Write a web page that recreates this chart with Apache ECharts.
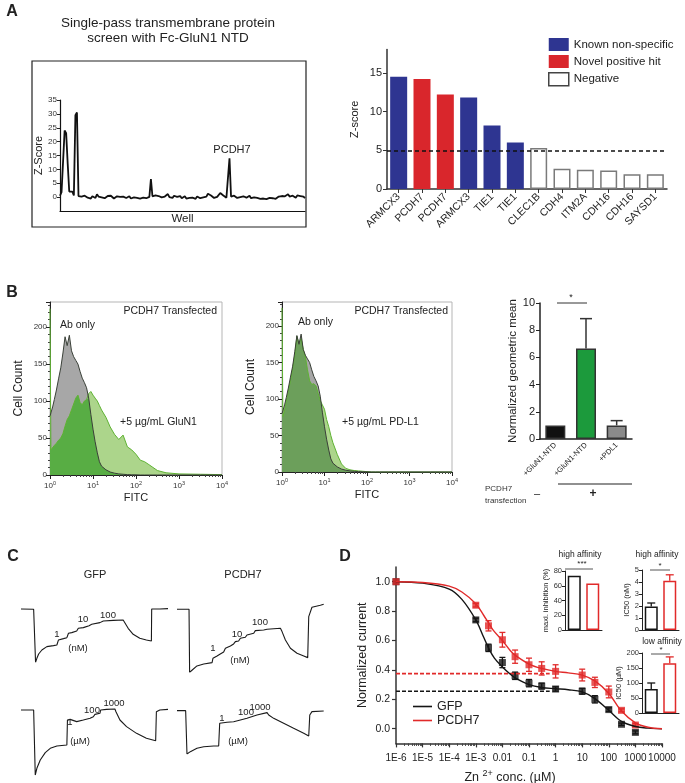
<!DOCTYPE html>
<html>
<head>
<meta charset="utf-8">
<script src="https://cdn.jsdelivr.net/npm/echarts@6/dist/echarts.min.js"></script>
<style>
html,body{margin:0;padding:0;background:#fff;}
#chart{width:685px;height:783px;}
</style>
</head>
<body>
<div id="chart"></div>
<script>
const FONT = '"Liberation Sans", Arial, sans-serif';

// A - single pass screen, z-score per well
const screenZ = [
  0.5, 1.8, 1.2, 24, 23, 12, 2, 1.5, 2, 0.6, 29.5, 30.5, 0.4,
  -0.3, 0.2, -0.4, 0.5, 0.1, -0.2, 0.4, -0.5, 0.3, 0.0, -0.3, 1.0,
  0.2, 0.6, -0.1, 0.5, -0.4, 0.3, 0.4, -0.2, 0.5, 0.1, -0.5, -0.2,
  0.3, -0.4, 0.1, -0.6, 0.2, 0.4, -0.3, 0.0, 0.3, -0.5, 0.2, -0.1,
  0.4, -0.3, 0.1, -0.5, 0.2, -0.2, 0.3, -0.4, 0.2, 0.1, 6.5, 0.3,
  -0.2, 0.6, 1.0, 0.4, 0.8, -0.1, 0.5, 0.2, 0.7, 1.1, 0.0, 0.4,
  -0.3, 0.5, 1.2, 0.1, -0.2, 0.4, -0.4, 0.2, 0.3, -0.5, 0.1, -0.3,
  0.4, -0.2, 0.3, -0.6, 0.2, 0.0, -0.4, 0.3, -0.1, 0.5, 0.2, 1.2,
  1.3, 0.6, 0.2, -0.3, 0.4, 0.1, 0.5, 1.5, 1.4, 0.6, 0.2, -0.2,
  0.3, 14, 0.2, -0.4, 0.5, 0.1, -0.3, 0.4, 0.0, -0.5, 0.3, 0.6,
  -0.2, 0.1, 0.5, -0.4, 0.2, -0.1, 0.4, -0.3, 0.1, -0.6, -0.4, -0.5,
  0.2, -0.7, -0.5, -0.3, -0.8, -0.4, 0.1, -0.6, -0.3, 0.2, -0.2, 0.4,
  -0.1, 0.3, -0.4, 1.0, 0.2, -0.3, 0.5, 0.1, -0.2, 0.6, 0.3, 0.4,
  1.0, 0.2, -0.4
];
const screenWells = screenZ.map((_, i) => i + 1);

// A - top hits
const hitGenes = ['ARMCX3','PCDH7','PCDH7','ARMCX3','TIE1','TIE1','CLEC1B','CDH4','ITM2A','CDH16','CDH16','SAYSD1'];
const knownNonSpecific = [14.5,'-','-',11.8,8.2,6.0,'-','-','-','-','-','-'];
const novelPositive = ['-',14.2,12.2,'-','-','-','-','-','-','-','-','-'];
const negativeHits = ['-','-','-','-','-','-',5.3,2.6,2.5,2.4,1.9,1.9];
const zThreshold = 5;

// B - flow cytometry histograms (FITC bin, cell count)
const fitcBins = [1, 1.05, 1.15, 1.26, 1.41, 1.58, 1.78, 2.0, 2.24, 2.51,
  2.82, 3.16, 3.55, 3.98, 4.47, 5.01, 5.62, 6.31, 7.08, 7.94,
  8.91, 10, 11.2, 12.6, 14.1, 15.8, 20, 25.1, 31.6, 39.8,
  50.1, 63.1, 79.4, 100, 126, 158, 200, 316, 501, 1000,
  3162, 10000];
const abOnlyCounts = [80, 84, 92, 102, 115, 130, 145, 165, 187, 175,
  189, 168, 160, 155, 150, 140, 131, 125, 118, 104,
  82, 62, 45, 30, 18, 12, 7, 4, 2.5, 1.5,
  1, 0.5, 0.3, 0.2, 0, 0, 0, 0, 0, 0,
  0, 0];
const glun1Counts = [225, 34, 36, 40, 43, 47, 50, 56, 66, 75,
  80, 88, 96, 104, 108, 98, 95, 100, 102, 110,
  113, 108, 104, 100, 94, 88, 78, 65, 55, 48,
  54, 38, 34, 28, 20, 18, 14, 6, 3, 1.5,
  1, 0.5];
const pdl1Counts = [225, 76, 85, 97, 111, 125, 142, 160, 186, 176,
  183, 168, 158, 140, 125, 120, 121, 118, 108, 98,
  92, 86, 72, 62, 50, 40, 24, 11, 5, 3,
  2, 1.5, 1, 0.5, 0, 0, 0, 0, 0, 0,
  0, 0];

// B - geometric mean
const bindGroups = ['+GluN1-NTD', '+GluN1-NTD', '+PDL1'];
const geoMean = [1.0, 6.65, 1.0];
const geoMeanErr = [0, 2.2, 0.35];
const geoColors = ['#111111', '#1c9a3c', '#8a8a8a'];

// C - current traces [time (a.u.), normalized current]
const gfpNanoTrace = [[0,0],[8.6,-0.006],[9.5,-0.006],[9.9,-1.0],[10.8,-0.925],[12,-0.844],[14.2,-0.769],[17.6,-0.706],[22.1,-0.688],[24.4,-0.675],[25.5,-0.581],[28.9,-0.556],[31.2,-0.538],[32.3,-0.456],[34.5,-0.444],[37.9,-0.413],[39,-0.363],[42.4,-0.35],[43.6,-0.325],[46.3,-0.313],[48.1,-0.288],[53.7,-0.256],[56,-0.225],[62.8,-0.213],[69.5,-0.206],[70.7,-0.238],[72.9,-0.363],[76.3,-0.475],[80.8,-0.55],[85.3,-0.581],[88.7,-0.6],[88.9,0],[94.4,0],[100,0.006]];
const pcdh7NanoTrace = [[0,0],[6.8,0],[8.2,0],[8.6,-1],[10.2,-0.968],[13.6,-0.899],[18.2,-0.868],[23.9,-0.847],[24.5,-0.778],[27.3,-0.741],[29.5,-0.709],[31.8,-0.677],[33,-0.619],[36.4,-0.582],[38.6,-0.55],[39.8,-0.513],[42,-0.503],[43.2,-0.46],[46.6,-0.444],[47.7,-0.407],[52.3,-0.381],[53.4,-0.339],[59.1,-0.328],[61.4,-0.317],[70.5,-0.302],[71.6,-0.354],[73.9,-0.487],[77.3,-0.619],[81.8,-0.698],[86.4,-0.741],[89.1,-0.767],[89.8,-0.116],[92,0.032],[97.7,0.063],[100,0.079]];
const gfpMicroTrace = [[0,0],[8.6,0],[9.3,0],[9.7,-1],[10.8,-0.897],[13.1,-0.769],[16.5,-0.656],[19.9,-0.59],[24.4,-0.554],[31.2,-0.538],[31.6,-0.154],[33.4,-0.144],[37.9,-0.179],[42.4,-0.154],[47,-0.128],[49.2,-0.103],[50.3,-0.067],[53.7,-0.051],[54.2,0],[58.2,0.01],[63.9,0.015],[64.6,-0.026],[67.3,-0.154],[71.8,-0.256],[78.6,-0.359],[85.3,-0.436],[91.6,-0.472],[92.1,-0.026],[94.4,0],[100,0.01]];
const pcdh7MicroTrace = [[0,0],[5.9,0],[6.4,0],[6.8,-1],[9.1,-0.946],[13.6,-0.869],[18.2,-0.831],[25,-0.815],[28.4,-0.815],[29.1,-0.292],[34.1,-0.269],[38.6,-0.254],[43.2,-0.215],[47.7,-0.177],[48.9,-0.138],[54.5,-0.1],[55.7,-0.062],[61.4,-0.046],[62.5,-0.1],[65.9,-0.177],[72.7,-0.292],[79.5,-0.408],[86.4,-0.523],[89.8,-0.585],[90.5,-0.1],[92,-0.023],[100,-0.008]];

// D - Zn2+ inhibition
const znConc = [1e-6, 1e-3, 3e-3, 0.01, 0.03, 0.1, 0.3, 1, 10, 30, 100, 300, 1000];
const gfpCurrent = [1.0, 0.74, 0.55, 0.45, 0.36, 0.31, 0.29, 0.27, 0.255, 0.2, 0.13, 0.03, -0.025];
const gfpErr = [0, 0.012, 0.025, 0.035, 0.025, 0.025, 0.02, 0.015, 0.02, 0.025, 0.012, 0.008, 0.01];
const pcdh7Current = [1.0, 0.84, 0.70, 0.605, 0.49, 0.435, 0.41, 0.39, 0.365, 0.315, 0.25, 0.125, 0.025];
const pcdh7Err = [0, 0.012, 0.035, 0.05, 0.045, 0.045, 0.045, 0.045, 0.04, 0.035, 0.04, 0.01, 0.01];
const fitConc = [1e-6, 1e-5, 1e-4, 3e-4, 1e-3, 2e-3, 3e-3, 5e-3, 0.01, 0.02, 0.03, 0.1, 0.3, 1, 3, 10, 30, 100, 300, 1000, 3000, 10000];
const gfpFit = [1.0, 0.99, 0.95, 0.88, 0.74, 0.62, 0.55, 0.48, 0.42, 0.37, 0.345, 0.30, 0.28, 0.272, 0.265, 0.25, 0.205, 0.125, 0.05, 0.015, 0.004, 0.0];
const pcdh7Fit = [1.0, 0.995, 0.97, 0.93, 0.85, 0.77, 0.72, 0.66, 0.60, 0.53, 0.50, 0.44, 0.41, 0.39, 0.38, 0.365, 0.325, 0.24, 0.12, 0.04, 0.01, 0.0];
const plateauEnd = 0.6;
const gfpPlateau = 0.255;
const pcdh7Plateau = 0.375;
const decadeTicks = [1e-6, 1e-5, 1e-4, 1e-3, 0.01, 0.1, 1, 10, 100, 1000, 10000];
const decadeLabels = ['1E-6','1E-5','1E-4','1E-3','0.01','0.1','1','10','100','1000','10000'];
const minorSteps = [2, 3, 4, 5, 6, 7, 8, 9];

// D insets
const insetGroups = ['GFP', 'PCDH7'];
const maxInhibition = [73.5, 63];
const ic50HighNM = [1.95, 4.1];
const ic50HighErr = [0.3, 0.5];
const ic50LowUM = [80, 166];
const ic50LowErr = [20, 21];

const BLACK = '#151515';
const RED = '#e12a2a';

const pairs = (xs, ys) => xs.map((x, i) => [x, ys[i]]);
const overlap = (a, b) => a.map((v, i) => Math.min(v, b[i]));
const minorTicks = decadeTicks.slice(0, -1).flatMap(d => minorSteps.map(s => d * s));

function errorBars(color, cap, both, width) {
  return function (params, api) {
    const x = api.value(0), y = api.value(1), e = api.value(2);
    if (!e) return null;
    const top = api.coord([x, y + e]);
    const bot = api.coord([x, both ? y - e : y]);
    const style = {stroke: color, lineWidth: width || 1.3};
    const kids = [
      {type: 'line', shape: {x1: top[0], y1: top[1], x2: bot[0], y2: bot[1]}, style},
      {type: 'line', shape: {x1: top[0] - cap, y1: top[1], x2: top[0] + cap, y2: top[1]}, style}
    ];
    if (both) kids.push({type: 'line', shape: {x1: bot[0] - cap, y1: bot[1], x2: bot[0] + cap, y2: bot[1]}, style});
    return {type: 'group', children: kids};
  };
}

function txt(text, x, y, size, extra) {
  const o = extra || {};
  return {
    type: 'text', x, y, z: 100,
    style: {
      text, fontSize: size, fontFamily: FONT, fontWeight: o.weight || 'normal',
      fill: o.color || '#222',
      textAlign: o.align || 'center', textVerticalAlign: 'middle',
      align: o.align || 'center', verticalAlign: 'middle',
      rich: o.rich
    }
  };
}
function seg(x1, y1, x2, y2, color, w) {
  return {type: 'line', z: 100, shape: {x1, y1, x2, y2}, style: {stroke: color || '#333', lineWidth: w || 1}};
}

const axisBlack = {show: true, onZero: false, lineStyle: {color: '#222', width: 1}};
const noSplit = {show: false};
const logLabel = v => '10{s|' + Math.round(Math.log10(v)) + '}';

function histAxisX(grid) {
  return {
    type: 'log', logBase: 10, gridIndex: grid, min: 1, max: 10000, splitNumber: 4,
    axisLine: axisBlack, splitLine: noSplit,
    axisTick: {show: true, length: 4, lineStyle: {color: '#222'}},
    minorTick: {show: true, splitNumber: 9, length: 2, lineStyle: {color: '#444'}},
    axisLabel: {formatter: logLabel, fontSize: 8, color: '#333', margin: 5, fontFamily: FONT,
      rich: {s: {fontSize: 5.5, padding: [0, 0, 5, 0], fontFamily: FONT, color: '#333'}}},
    name: 'FITC', nameLocation: 'middle', nameGap: 17,
    nameTextStyle: {fontSize: 11, color: '#222', fontFamily: FONT}
  };
}
function histAxisY(grid, max) {
  return {
    type: 'value', gridIndex: grid, min: 0, max, interval: 50,
    axisLine: axisBlack, splitLine: noSplit,
    axisTick: {show: true, length: 4, lineStyle: {color: '#222'}},
    minorTick: {show: true, splitNumber: 5, length: 2, lineStyle: {color: '#444'}},
    axisLabel: {fontSize: 8, color: '#333', margin: 3, fontFamily: FONT, showMaxLabel: false},
    name: 'Cell Count', nameLocation: 'middle', nameGap: 25,
    nameTextStyle: {fontSize: 12, color: '#222', fontFamily: FONT}
  };
}
function hidden(grid, min, max) {
  return {type: 'value', gridIndex: grid, min, max, show: false, splitLine: noSplit};
}
function insetX(grid) {
  return {type: 'category', gridIndex: grid, data: insetGroups,
    axisLine: {show: true, onZero: false, lineStyle: {color: '#222', width: 1}},
    axisTick: {show: false}, axisLabel: {show: false}};
}
function insetY(grid, max, interval, name, gap) {
  return {type: 'value', gridIndex: grid, min: 0, max, interval,
    axisLine: axisBlack, splitLine: noSplit,
    axisTick: {show: true, length: 3, lineStyle: {color: '#222'}},
    axisLabel: {fontSize: 7.5, color: '#333', margin: 3, fontFamily: FONT},
    name, nameLocation: 'middle', nameGap: gap,
    nameTextStyle: {fontSize: 7.5, color: '#222', fontFamily: FONT}};
}
function histSeries(grid, counts, overlapColor) {
  const base = {type: 'line', xAxisIndex: grid, yAxisIndex: grid, symbol: 'none', silent: true};
  return [
    Object.assign({}, base, {data: pairs(fitcBins, counts),
      lineStyle: {color: '#5fb233', width: 1}, areaStyle: {color: '#acd58b', opacity: 1}}),
    Object.assign({}, base, {data: pairs(fitcBins, abOnlyCounts),
      lineStyle: {width: 0}, areaStyle: {color: '#a7a7a7', opacity: 1}}),
    Object.assign({}, base, {data: pairs(fitcBins, overlap(abOnlyCounts, counts)),
      lineStyle: {width: 0}, areaStyle: {color: overlapColor, opacity: 1}}),
    Object.assign({}, base, {data: pairs(fitcBins, abOnlyCounts),
      lineStyle: {color: '#3a4038', width: 1}})
  ];
}
function traceSeries(grid, trace) {
  return {type: 'line', xAxisIndex: grid, yAxisIndex: grid, data: trace, symbol: 'none', silent: true,
    lineStyle: {color: '#1a1a1a', width: 1.1}};
}
function insetBars(grid, values) {
  return {type: 'bar', xAxisIndex: grid, yAxisIndex: grid, barWidth: 13, silent: true,
    data: values.map((v, i) => ({value: v, itemStyle: {color: '#fff', borderColor: i ? RED : BLACK, borderWidth: 1.5}}))};
}
function insetErr(grid, values, errs) {
  return [0, 1].map(i => ({
    type: 'custom', xAxisIndex: grid, yAxisIndex: grid, silent: true,
    renderItem: errorBars(i ? RED : BLACK, 4, false, 1.3),
    encode: {x: 0, y: 1},
    data: [[i, values[i], errs[i]]]
  }));
}

const option = {
  animation: false,
  textStyle: {fontFamily: FONT},
  legend: [
    {
      data: ['Known non-specific', 'Novel positive hit',
        {name: 'Negative', itemStyle: {color: '#fff', borderColor: '#444', borderWidth: 1.5}}],
      left: 543, top: 33, orient: 'vertical', icon: 'rect', itemWidth: 20, itemHeight: 13, itemGap: 4,
      selectedMode: false, textStyle: {fontSize: 11.5, color: '#222', fontFamily: FONT}
    },
    {
      data: ['GFP', 'PCDH7'], left: 408, top: 695, orient: 'vertical', icon: 'rect',
      itemWidth: 19, itemHeight: 1.6, itemGap: 1,
      selectedMode: false, textStyle: {fontSize: 12.5, color: '#222', fontFamily: FONT}
    }
  ],
  grid: [
    {left: 60, top: 100, width: 245, height: 111},
    {left: 387, top: 49.5, width: 280, height: 139.5},
    {left: 50, top: 302, width: 172, height: 173, show: true, borderColor: '#b5b5b5', borderWidth: 1},
    {left: 282, top: 302, width: 170, height: 170, show: true, borderColor: '#b5b5b5', borderWidth: 1},
    {left: 540, top: 303, width: 92, height: 136},
    {left: 21, top: 606.3, width: 147, height: 56},
    {left: 177, top: 603, width: 146.7, height: 69.3},
    {left: 21, top: 706.75, width: 147, height: 68.25},
    {left: 177, top: 708.5, width: 146.7, height: 45.5},
    {left: 396, top: 567, width: 266, height: 176.4},
    {left: 565, top: 571, width: 37, height: 59},
    {left: 642, top: 570, width: 37, height: 60},
    {left: 642, top: 653, width: 37, height: 60}
  ].map(g => Object.assign({outerBoundsMode: 'none', containLabel: false}, g)),
  xAxis: [
    {type: 'category', gridIndex: 0, data: screenWells, boundaryGap: false,
      axisLine: {show: true, onZero: false, lineStyle: {color: '#111', width: 1.2}}, axisTick: {show: false}, axisLabel: {show: false},
      name: 'Well', nameLocation: 'middle', nameGap: 2, nameTextStyle: {fontSize: 11.5, color: '#222', fontFamily: FONT}},
    {type: 'category', gridIndex: 1, data: hitGenes,
      axisLine: {show: true, onZero: false, lineStyle: {color: '#333', width: 1.5}},
      axisTick: {show: true, alignWithLabel: true, length: 4, lineStyle: {color: '#333'}},
      axisLabel: {rotate: 45, interval: 0, fontSize: 10.5, color: '#222', margin: 6, fontFamily: FONT}},
    histAxisX(2),
    histAxisX(3),
    {type: 'category', gridIndex: 4, data: bindGroups,
      axisLine: {show: true, onZero: false, lineStyle: {color: '#222', width: 1.5}}, axisTick: {show: false},
      axisLabel: {rotate: 45, interval: 0, fontSize: 7.5, color: '#222', margin: 5, fontFamily: FONT}},
    hidden(5, 0, 100), hidden(6, 0, 100), hidden(7, 0, 100), hidden(8, 0, 100),
    {type: 'log', logBase: 10, gridIndex: 9, min: 1e-6, max: 1e4, splitNumber: 10, position: 'bottom',
      axisLine: {show: true, onZero: false, lineStyle: {color: '#333', width: 1.5}}, splitLine: noSplit,
      axisTick: {show: true, length: 4, customValues: decadeTicks, lineStyle: {color: '#333', width: 1.2}},
      minorTick: {show: false},
      axisLabel: {customValues: decadeTicks, fontSize: 10, color: '#222', margin: 10, fontFamily: FONT,
        formatter: v => decadeLabels[Math.round(Math.log10(v)) + 6]}},
    insetX(10), insetX(11), insetX(12),
    // minor decade ticks for D
    {type: 'log', logBase: 10, gridIndex: 9, min: 1e-6, max: 1e4, position: 'bottom', offset: 0,
      axisLine: {show: false, onZero: false}, splitLine: noSplit, axisLabel: {show: false},
      axisTick: {show: true, length: 2.5, customValues: minorTicks, lineStyle: {color: '#444', width: 1}}}
  ],
  yAxis: [
    {type: 'value', gridIndex: 0, min: -5, max: 35, interval: 5,
      axisLine: {show: true, onZero: false, lineStyle: {color: '#111', width: 1.2}}, splitLine: noSplit,
      axisTick: {show: true, length: 3, customValues: [0, 5, 10, 15, 20, 25, 30, 35], lineStyle: {color: '#222'}},
      axisLabel: {customValues: [0, 5, 10, 15, 20, 25, 30, 35], formatter: v => (v < 0 ? '' : v),
        fontSize: 8, color: '#333', margin: 3, fontFamily: FONT},
      name: 'Z-Score', nameLocation: 'middle', nameGap: 16, nameTextStyle: {fontSize: 11, color: '#222', fontFamily: FONT}},
    {type: 'value', gridIndex: 1, min: 0, max: 18, interval: 5,
      axisLine: {show: true, onZero: false, lineStyle: {color: '#333', width: 1.5}}, splitLine: noSplit,
      axisTick: {show: true, length: 4, lineStyle: {color: '#333'}},
      axisLabel: {fontSize: 11, color: '#222', margin: 5, fontFamily: FONT, showMaxLabel: false},
      name: 'Z-score', nameLocation: 'middle', nameGap: 27, nameTextStyle: {fontSize: 11, color: '#222', fontFamily: FONT}},
    histAxisY(2, 234),
    histAxisY(3, 233),
    {type: 'value', gridIndex: 4, min: 0, max: 10, interval: 2,
      axisLine: {show: true, onZero: false, lineStyle: {color: '#222', width: 1.5}}, splitLine: noSplit,
      axisTick: {show: true, length: 4, lineStyle: {color: '#222'}},
      axisLabel: {fontSize: 11, color: '#222', margin: 5, fontFamily: FONT},
      name: 'Normalized geometric mean', nameLocation: 'middle', nameGap: 20,
      nameTextStyle: {fontSize: 11.5, color: '#222', fontFamily: FONT}},
    hidden(5, -1, 0.05), hidden(6, -1, 0.1), hidden(7, -1, 0.05), hidden(8, -1, 0.05),
    {type: 'value', gridIndex: 9, min: -0.1, max: 1.1,
      axisLine: {show: true, onZero: false, lineStyle: {color: '#333', width: 1.5}}, splitLine: noSplit,
      axisTick: {show: true, length: 4, customValues: [0, 0.2, 0.4, 0.6, 0.8, 1.0], lineStyle: {color: '#333', width: 1.2}},
      axisLabel: {customValues: [0, 0.2, 0.4, 0.6, 0.8, 1.0], formatter: v => v.toFixed(1),
        fontSize: 10.5, color: '#222', margin: 6, fontFamily: FONT},
      name: 'Normalized current', nameLocation: 'middle', nameGap: 27,
      nameTextStyle: {fontSize: 12.5, color: '#222', fontFamily: FONT}},
    insetY(10, 80, 20, 'maxi. inhibition (%)', 9),
    insetY(11, 5, 1, 'IC50 (nM)', 10),
    insetY(12, 200, 50, 'IC50 (\u00b5M)', 15)
  ],
  series: [
    // A screen
    {type: 'line', xAxisIndex: 0, yAxisIndex: 0, data: screenZ, symbol: 'none', silent: true,
      lineStyle: {color: '#111', width: 1.8}},
    // A hits
    {name: 'Known non-specific', type: 'bar', xAxisIndex: 1, yAxisIndex: 1, stack: 'hits', barWidth: 17,
      data: knownNonSpecific, itemStyle: {color: '#2e3591'}, silent: true},
    {name: 'Novel positive hit', type: 'bar', xAxisIndex: 1, yAxisIndex: 1, stack: 'hits', barWidth: 17,
      data: novelPositive, itemStyle: {color: '#d9262c'}, silent: true},
    {name: 'Negative', type: 'bar', xAxisIndex: 1, yAxisIndex: 1, stack: 'hits', barWidth: 17,
      data: negativeHits, itemStyle: {color: '#fff', borderColor: '#7a7a7a', borderWidth: 1.5}, silent: true,
      markLine: {silent: true, symbol: 'none', label: {show: false},
        lineStyle: {color: '#111', type: [4, 3], width: 1.5}, data: [{yAxis: zThreshold}]}},
    // B histograms
    ...histSeries(2, glun1Counts, '#58ad44'),
    ...histSeries(3, pdl1Counts, '#6c9f5b'),
    // B geometric mean
    {type: 'bar', xAxisIndex: 4, yAxisIndex: 4, barWidth: 20, silent: true,
      data: geoMean.map((v, i) => ({value: v, itemStyle: {color: geoColors[i], borderColor: '#333', borderWidth: 1.5}}))},
    {type: 'custom', xAxisIndex: 4, yAxisIndex: 4, silent: true, encode: {x: 0, y: 1},
      renderItem: errorBars('#333', 6, false, 1.5),
      data: geoMean.map((v, i) => [i, v, geoMeanErr[i]])},
    // C traces
    traceSeries(5, gfpNanoTrace),
    traceSeries(6, pcdh7NanoTrace),
    traceSeries(7, gfpMicroTrace),
    traceSeries(8, pcdh7MicroTrace),
    // D main
    {type: 'line', xAxisIndex: 9, yAxisIndex: 9, symbol: 'none', silent: true,
      data: [[1e-6, pcdh7Plateau], [plateauEnd, pcdh7Plateau]], lineStyle: {color: RED, type: [4, 2], width: 1.6}},
    {type: 'line', xAxisIndex: 9, yAxisIndex: 9, symbol: 'none', silent: true,
      data: [[1e-6, gfpPlateau], [plateauEnd, gfpPlateau]], lineStyle: {color: BLACK, type: [4, 2], width: 1.6}},
    {name: 'GFP', type: 'line', xAxisIndex: 9, yAxisIndex: 9, symbol: 'none', smooth: 0.35, silent: true,
      data: pairs(fitConc, gfpFit), lineStyle: {color: BLACK, width: 1.4}, itemStyle: {color: BLACK}},
    {name: 'PCDH7', type: 'line', xAxisIndex: 9, yAxisIndex: 9, symbol: 'none', smooth: 0.35, silent: true,
      data: pairs(fitConc, pcdh7Fit), lineStyle: {color: RED, width: 1.4}, itemStyle: {color: RED}},
    {type: 'custom', xAxisIndex: 9, yAxisIndex: 9, silent: true, encode: {x: 0, y: 1},
      renderItem: errorBars(BLACK, 3, true, 1.3), data: znConc.map((c, i) => [c, gfpCurrent[i], gfpErr[i]])},
    {type: 'custom', xAxisIndex: 9, yAxisIndex: 9, silent: true, encode: {x: 0, y: 1},
      renderItem: errorBars(RED, 3, true, 1.3), data: znConc.map((c, i) => [c, pcdh7Current[i], pcdh7Err[i]])},
    {name: 'GFP data', type: 'scatter', xAxisIndex: 9, yAxisIndex: 9, symbol: 'rect', symbolSize: 7, silent: true,
      data: pairs(znConc, gfpCurrent), itemStyle: {color: BLACK}},
    {name: 'PCDH7 data', type: 'scatter', xAxisIndex: 9, yAxisIndex: 9, symbol: 'rect', symbolSize: 7, silent: true,
      data: pairs(znConc, pcdh7Current), itemStyle: {color: RED}},
    // D insets
    insetBars(10, maxInhibition),
    insetBars(11, ic50HighNM),
    ...insetErr(11, ic50HighNM, ic50HighErr),
    insetBars(12, ic50LowUM),
    ...insetErr(12, ic50LowUM, ic50LowErr)
  ],
  graphic: [
    // A
    txt('A', 12, 12, 16, {weight: 'bold'}),
    txt('Single-pass transmembrane protein', 168, 23, 13.5),
    txt('screen with Fc-GluN1 NTD', 168, 38, 13.5),
    {type: 'rect', z: 100, shape: {x: 32, y: 61, width: 274, height: 166}, style: {fill: 'none', stroke: '#222', lineWidth: 1.2}},
    txt('PCDH7', 232, 150, 11),
    // B
    txt('B', 12, 293, 16, {weight: 'bold'}),
    txt('PCDH7 Transfected', 217, 311, 10.5, {align: 'right'}),
    txt('Ab only', 60, 325, 10.5, {align: 'left'}),
    txt('+5 \u00b5g/mL GluN1', 120, 422, 10.5, {align: 'left'}),
    txt('PCDH7 Transfected', 448, 311, 10.5, {align: 'right'}),
    txt('Ab only', 298, 322, 10.5, {align: 'left'}),
    txt('+5 \u00b5g/mL PD-L1', 342, 422, 10.5, {align: 'left'}),
    seg(557, 303, 587, 303, '#333', 1),
    txt('*', 571, 298, 9),
    txt('PCDH7', 485, 489, 8, {align: 'left', color: '#333'}),
    txt('transfection', 485, 501, 8, {align: 'left', color: '#333'}),
    txt('\u2013', 537, 494, 11),
    txt('+', 593, 494, 12, {weight: 'bold'}),
    seg(558, 484, 632, 484, '#222', 1.2),
    // C
    txt('C', 13, 557, 16, {weight: 'bold'}),
    txt('GFP', 95, 575, 11),
    txt('PCDH7', 243, 575, 11),
    txt('1', 57, 634, 9.5), txt('10', 83, 619, 9.5), txt('100', 108, 615, 9.5), txt('(nM)', 78, 648, 9.5),
    txt('1', 213, 648, 9.5), txt('10', 237, 634, 9.5), txt('100', 260, 622, 9.5), txt('(nM)', 240, 660, 9.5),
    txt('1', 70, 722, 9.5), txt('100', 92, 710, 9.5), txt('1000', 114, 703, 9.5), txt('(\u00b5M)', 80, 741, 9.5),
    txt('1', 222, 718, 9.5), txt('100', 246, 712, 9.5), txt('1000', 260, 707, 9.5), txt('(\u00b5M)', 238, 741, 9.5),
    // D
    txt('D', 345, 557, 16, {weight: 'bold'}),
    txt('high affinity', 580, 555, 8.5),
    txt('high affinity', 657, 555, 8.5),
    txt('low affinity', 662, 642, 8.5),
    seg(565, 569, 593, 569, '#555', 1), txt('***', 582, 564, 8),
    seg(650, 570, 670, 570, '#555', 1), txt('*', 660, 566, 8),
    seg(651, 654, 670, 654, '#555', 1), txt('*', 661, 650, 8),
    txt('Zn {s|2+} conc. (\u00b5M)', 510, 778, 12.5, {rich: {s: {fontSize: 9, padding: [0, 0, 8, 0], fontFamily: FONT, fill: '#222'}}})
  ]
};

const chart = echarts.init(document.getElementById('chart'));
chart.setOption(option);
</script>
</body>
</html>
